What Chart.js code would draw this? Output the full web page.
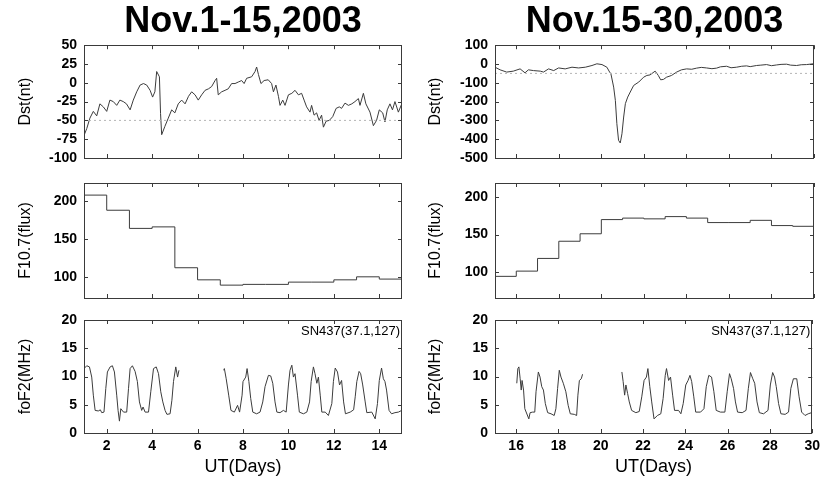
<!DOCTYPE html>
<html>
<head>
<meta charset="utf-8">
<title>Dst, F10.7 and foF2, November 2003</title>
<script src="https://cdn.jsdelivr.net/npm/chart.js@4.4.1/dist/chart.umd.min.js"></script>
<style>
  html, body { margin: 0; padding: 0; background: #fff; }
  #wrap { position: relative; width: 825px; height: 479px; overflow: hidden; }
  .cell { position: absolute; }
</style>
</head>
<body>
<div id="wrap">
  <div class="cell" style="left:0;top:0;width:410px;height:174px"><canvas id="dstL"></canvas></div>
  <div class="cell" style="left:410px;top:0;width:415px;height:174px"><canvas id="dstR"></canvas></div>
  <div class="cell" style="left:0;top:167px;width:410px;height:147px"><canvas id="fluxL"></canvas></div>
  <div class="cell" style="left:410px;top:167px;width:415px;height:147px"><canvas id="fluxR"></canvas></div>
  <div class="cell" style="left:0;top:304px;width:410px;height:175px"><canvas id="fof2L"></canvas></div>
  <div class="cell" style="left:410px;top:304px;width:415px;height:175px"><canvas id="fof2R"></canvas></div>
</div>
<script>
// ---- data ----
var titleLeft = 'Nov.1-15,2003';
var titleRight = 'Nov.15-30,2003';
var stationTag = 'SN437(37.1,127)';
var quietDst = -50;   // dotted reference level

// Dst, Nov 1-15
var dstLeftDays = [1.0,1.12,1.26,1.41,1.56,1.70,1.85,2.0,2.14,2.29,2.44,2.58,2.73,2.87,3.03,3.17,3.32,3.47,3.62,3.76,
  3.91,4.02,4.12,4.2,4.32,4.37,4.42,4.56,4.71,4.86,5.0,5.15,5.3,5.45,5.6,5.74,5.89,6.03,6.18,6.33,
  6.48,6.62,6.77,6.84,6.91,7.06,7.21,7.35,7.5,7.65,7.79,7.94,8.05,8.16,8.38,8.53,8.6,8.68,8.79,8.93,
  9.11,9.26,9.34,9.45,9.56,9.63,9.75,9.85,10.0,10.15,10.29,10.44,10.58,10.69,10.8,10.95,11.02,11.13,11.24,11.35,
  11.46,11.54,11.66,11.8,11.95,12.1,12.24,12.34,12.49,12.64,12.79,12.93,13.08,13.15,13.3,13.41,13.59,13.74,13.88,14.0,
  14.15,14.25,14.35,14.47,14.58,14.69,14.84,14.99];
var dstLeftValues = [-70,-61,-47,-38,-44,-28,-32,-38,-23,-25,-30,-23,-25,-28,-36,-23,-12,-3,-1,-3,
  -10,-19,-12,15,8,-41,-69,-58,-47,-36,-40,-28,-23,-28,-18,-12,-16,-23,-16,-10,
  -8,-5,3,6,-16,-12,-10,-8,-1,-1,1,3,-1,6,8,15,21,11,-1,3,
  4,-1,-12,-3,-18,-30,-23,-30,-16,-14,-10,-16,-14,-23,-32,-39,-30,-43,-40,-50,
  -43,-59,-51,-50,-45,-34,-32,-34,-27,-30,-28,-25,-21,-30,-14,-28,-39,-57,-50,-36,
  -40,-52,-36,-28,-36,-25,-39,-28];

// Dst, Nov 15-30
var dstRightDays = [15.0,15.24,15.55,15.86,16.18,16.41,16.57,16.81,17.13,17.28,17.52,17.76,17.99,18.3,18.62,18.93,19.25,19.56,19.79,20.03,
  20.26,20.39,20.45,20.58,20.66,20.73,20.81,20.89,20.97,21.05,21.13,21.24,21.36,21.52,21.76,21.99,22.14,22.29,22.53,22.68,
  22.79,22.92,23.07,23.3,23.54,23.77,24.01,24.25,24.48,24.7,24.95,25.2,25.42,25.6,25.89,26.1,26.36,26.6,26.83,27.0,
  27.3,27.5,27.77,28.0,28.24,28.45,28.71,28.9,29.18,29.4,29.65,29.97];
var dstRightValues = [-17,-31,-43,-38,-26,-47,-31,-35,-38,-43,-26,-35,-21,-26,-17,-21,-17,-8,1,-3,
  -17,-43,-52,-123,-194,-317,-406,-420,-371,-282,-211,-176,-149,-114,-96,-70,-61,-58,-38,-61,
  -84,-82,-70,-61,-43,-31,-26,-28,-22,-18,-21,-25,-22,-15,-12,-20,-17,-12,-10,-14,
  -8,-6,-3,-9,-5,-2,-1,-6,-8,-4,-3,1];

// F10.7 daily flux (value holds for the whole day)
var fluxLeftDays = [1,2,3,4,5,6,7,8,9,10,11,12,13,14,15];
var fluxLeftValues = [208,188,164,166,112,96,89,90,90,93,93,96,100,97,97];
var fluxRightDays = [15,16,17,18,19,20,21,22,23,24,25,26,27,28,29,30];
var fluxRightValues = [94,101,118,141,151,170,172,171,174,172,166,166,169,162,161,161];

// foF2 at SN437 (null = no data)
var fof2LeftDays = [1.0,1.12,1.24,1.34,1.41,1.49,1.63,1.72,1.78,1.88,1.96,2.03,2.15,2.25,2.34,2.44,2.5,2.56,2.62,2.74,
  2.88,2.96,3.03,3.13,3.25,3.35,3.44,3.54,3.6,3.69,3.84,3.94,4.06,4.18,4.28,4.38,4.47,4.57,4.65,4.79,
  4.87,4.94,5.04,5.12,5.18,6.0,7.15,7.18,7.26,7.37,7.47,7.62,7.76,7.85,7.96,8.0,
  8.12,8.18,8.26,8.34,8.43,8.6,8.75,8.87,8.97,9.12,9.22,9.31,9.41,9.49,9.63,9.78,9.9,10.0,10.07,10.15,
  10.22,10.29,10.4,10.48,10.66,10.81,10.93,11.0,11.1,11.17,11.25,11.32,11.4,11.47,11.62,11.76,11.91,11.98,12.06,12.16,
  12.25,12.34,12.43,12.51,12.72,12.87,12.94,13.01,13.11,13.18,13.27,13.38,13.45,13.67,13.82,13.92,14.0,14.1,14.18,14.25,
  14.32,14.43,14.54,14.69,14.84,14.99];
var fof2LeftValues = [11.4,11.9,11.7,9.9,6.7,4.0,3.9,4.1,3.6,3.7,7.9,10.8,11.7,11.9,10.8,6.7,4.0,2.1,4.3,3.7,
  3.7,7.9,11.4,11.9,10.9,9.1,5.5,4.0,4.6,3.7,3.7,7.3,11.4,11.7,10.5,7.3,5.5,4.0,3.3,3.4,
  5.8,9.1,11.7,9.9,11.1,null,11.1,11.4,9.6,6.7,4.0,3.7,4.9,3.7,6.7,9.1,
  9.9,11.4,9.1,6.1,3.7,3.4,3.7,5.5,8.2,10.2,10.1,8.8,5.5,3.7,3.6,4.0,3.7,8.5,11.1,12.0,
  9.9,10.5,6.7,3.7,3.4,3.7,5.5,9.1,11.7,10.5,8.8,9.9,6.7,3.7,3.7,3.1,5.2,9.1,11.5,10.8,
  8.5,9.3,5.5,3.4,3.7,4.1,6.4,9.1,10.9,10.5,8.5,5.5,3.6,3.7,2.5,5.2,9.3,11.5,9.6,9.1,
  7.6,4.0,3.4,3.6,3.7,4.0];

var fof2RightDays = [16.03,16.08,16.13,16.19,16.24,16.28,16.35,16.41,16.6,16.66,16.78,16.88,16.94,17.05,17.13,17.21,17.29,17.38,17.49,17.65,
  17.8,17.88,17.96,18.04,18.12,18.23,18.35,18.46,18.56,18.75,18.86,18.92,18.99,19.08,19.14,20.0,21.0,21.06,21.13,21.19,
  21.27,21.35,21.46,21.66,21.82,21.94,22.05,22.16,22.23,22.32,22.41,22.52,22.68,22.84,22.95,23.05,23.11,23.21,23.3,23.4,
  23.49,23.68,23.79,23.9,24.02,24.13,24.22,24.3,24.4,24.49,24.72,24.88,24.99,25.11,25.24,25.35,25.46,25.66,25.87,25.98,
  26.09,26.17,26.28,26.37,26.47,26.69,26.87,26.98,27.08,27.19,27.28,27.39,27.5,27.7,27.91,28.02,28.13,28.22,28.3,28.41,
  28.52,28.72,28.88,28.99,29.11,29.27,29.38,29.5,29.66,29.81,29.97];
var fof2RightValues = [8.8,11.4,11.7,9.6,7.6,9.3,7.6,4.3,2.5,3.6,3.7,3.7,7.3,10.8,9.9,8.2,7.6,5.2,3.6,3.4,
  3.1,4.3,7.9,11.1,9.9,8.8,7.3,4.9,3.4,3.3,3.1,6.7,9.3,9.6,10.4,null,10.8,9.1,6.7,8.5,
  7.0,5.5,4.0,3.6,3.8,6.4,9.3,9.9,11.4,8.2,5.5,2.5,3.1,3.4,6.1,10.2,11.4,9.3,9.9,6.7,
  4.0,4.0,3.4,5.2,8.5,9.3,10.2,9.1,6.4,3.7,3.7,4.3,8.2,10.2,9.9,7.3,4.0,3.7,3.7,7.3,
  10.5,9.6,7.9,5.5,3.7,3.6,4.0,7.9,10.7,9.6,8.8,5.5,3.6,3.4,4.0,8.5,10.7,9.9,8.2,5.2,
  3.4,3.3,3.7,7.9,9.6,9.6,6.4,3.7,3.1,3.4,3.6];

// ---- drawing ----
var FONT = "'Liberation Sans', Arial, sans-serif";
var LINE = '#3c3c3c';

function pairs(xs, ys) {
  return xs.map(function (x, i) { return { x: x, y: ys[i] }; });
}

// frame round the plot with inward ticks on all four sides
var boxTicks = {
  id: 'boxTicks',
  afterDraw: function (chart) {
    var ctx = chart.ctx, a = chart.chartArea;
    var xs = chart.scales.x, ys = chart.scales.y;
    ctx.save();
    ctx.strokeStyle = '#3a3a3a';
    ctx.lineWidth = 1;
    ctx.beginPath();
    xs.ticks.forEach(function (t) {
      var px = Math.round(xs.getPixelForValue(t.value)) + 0.5;
      var len = t.label ? 4 : 3;
      ctx.moveTo(px, a.bottom); ctx.lineTo(px, a.bottom - len);
      ctx.moveTo(px, a.top); ctx.lineTo(px, a.top + len);
    });
    ys.ticks.forEach(function (t) {
      var py = Math.round(ys.getPixelForValue(t.value)) + 0.5;
      var len = t.label ? 4 : 2.5;
      ctx.moveTo(a.left, py); ctx.lineTo(a.left + len, py);
      ctx.moveTo(a.right, py); ctx.lineTo(a.right - len, py);
    });
    ctx.stroke();
    ctx.strokeRect(Math.round(a.left) + 0.5, Math.round(a.top) + 0.5,
      Math.round(a.width) - 1, Math.round(a.height));
    var tag = chart.options.plugins.boxTicks && chart.options.plugins.boxTicks.tag;
    if (tag) {
      ctx.fillStyle = '#000';
      ctx.font = '13px ' + FONT;
      ctx.textAlign = 'right';
      ctx.textBaseline = 'middle';
      ctx.fillText(tag, a.right - 2, a.top + 11);
    }
    ctx.restore();
  }
};

function makePanel(id, opt) {
  var datasets = [{
    data: pairs(opt.days, opt.values),
    borderColor: LINE,
    borderWidth: 1,
    pointRadius: 0,
    stepped: !!opt.stepped,
    spanGaps: false
  }];
  if (opt.quiet !== undefined) {
    datasets.unshift({
      data: [{ x: opt.xmin, y: opt.quiet }, { x: opt.xmax, y: opt.quiet }],
      borderColor: '#b4b4b4',
      borderWidth: 1,
      borderDash: [2, 3],
      pointRadius: 0
    });
  }
  var bottomRow = !!opt.xTitle;
  return new Chart(document.getElementById(id), {
    type: 'line',
    data: { datasets: datasets },
    plugins: [boxTicks],
    options: {
      responsive: true,
      maintainAspectRatio: false,
      animation: false,
      layout: { padding: { top: opt.padTop, right: opt.padRight, bottom: opt.padBottom, left: 0 } },
      plugins: {
        legend: { display: false },
        tooltip: { enabled: false },
        boxTicks: { tag: opt.tag },
        title: {
          display: !!opt.title,
          text: opt.title,
          fullSize: false,
          color: '#000',
          font: { family: FONT, size: 36, weight: 'bold', lineHeight: 1.2 },
          padding: { top: 0, bottom: 2 }
        }
      },
      scales: {
        x: {
          type: 'linear',
          min: opt.xmin, max: opt.xmax,
          grid: { display: false, drawTicks: false },
          border: { display: false },
          ticks: {
            display: bottomRow,
            stepSize: 1,
            autoSkip: false,
            maxRotation: 0,
            padding: 5,
            color: '#000',
            font: { family: FONT, size: 14, weight: 'bold' },
            callback: function (v) { return v % 2 === 0 ? String(v) : null; }
          },
          title: {
            display: bottomRow,
            text: opt.xTitle,
            color: '#000',
            font: { family: FONT, size: 18 },
            padding: { top: 0, bottom: 1 }
          },
          afterFit: function (s) { s.height = bottomRow ? 46 : 0; }
        },
        y: {
          min: opt.ymin, max: opt.ymax,
          grid: { display: false, drawTicks: false },
          border: { display: false },
          ticks: {
            stepSize: opt.yStep / 2,
            includeBounds: false,
            autoSkip: false,
            padding: 7,
            color: '#000',
            font: { family: FONT, size: 14, weight: 'bold' },
            callback: function (v) { return v % opt.yStep === 0 ? String(v) : null; }
          },
          title: {
            display: true,
            text: opt.yTitle,
            color: '#000',
            font: { family: FONT, size: 16 },
            padding: { top: 16, bottom: 0 }
          },
          afterFit: function (s) { s.width = opt.yWidth; }
        }
      }
    }
  });
}

makePanel('dstL', {
  days: dstLeftDays, values: dstLeftValues, quiet: quietDst, title: titleLeft,
  xmin: 1, xmax: 15, ymin: -100, ymax: 50, yStep: 25, yTitle: 'Dst(nt)',
  yWidth: 84, padTop: 0, padRight: 8, padBottom: 16
});
makePanel('dstR', {
  days: dstRightDays, values: dstRightValues, quiet: quietDst, title: titleRight,
  xmin: 15, xmax: 30, ymin: -500, ymax: 100, yStep: 100, yTitle: 'Dst(nt)',
  yWidth: 85, padTop: 0, padRight: 11, padBottom: 16
});
makePanel('fluxL', {
  days: fluxLeftDays, values: fluxLeftValues, stepped: true,
  xmin: 1, xmax: 15, ymin: 72, ymax: 224, yStep: 50, yTitle: 'F10.7(flux)',
  yWidth: 84, padTop: 16, padRight: 8, padBottom: 16
});
makePanel('fluxR', {
  days: fluxRightDays, values: fluxRightValues, stepped: true,
  xmin: 15, xmax: 30, ymin: 65, ymax: 219, yStep: 50, yTitle: 'F10.7(flux)',
  yWidth: 85, padTop: 16, padRight: 11, padBottom: 16
});
makePanel('fof2L', {
  days: fof2LeftDays, values: fof2LeftValues, tag: stationTag,
  xmin: 1, xmax: 15, ymin: 0, ymax: 20, yStep: 5, yTitle: 'foF2(MHz)', xTitle: 'UT(Days)',
  yWidth: 84, padTop: 16, padRight: 8, padBottom: 0
});
makePanel('fof2R', {
  days: fof2RightDays, values: fof2RightValues, tag: stationTag,
  xmin: 15, xmax: 30, ymin: 0, ymax: 20, yStep: 5, yTitle: 'foF2(MHz)', xTitle: 'UT(Days)',
  yWidth: 85, padTop: 16, padRight: 11, padBottom: 0
});
</script>
</body>
</html>
